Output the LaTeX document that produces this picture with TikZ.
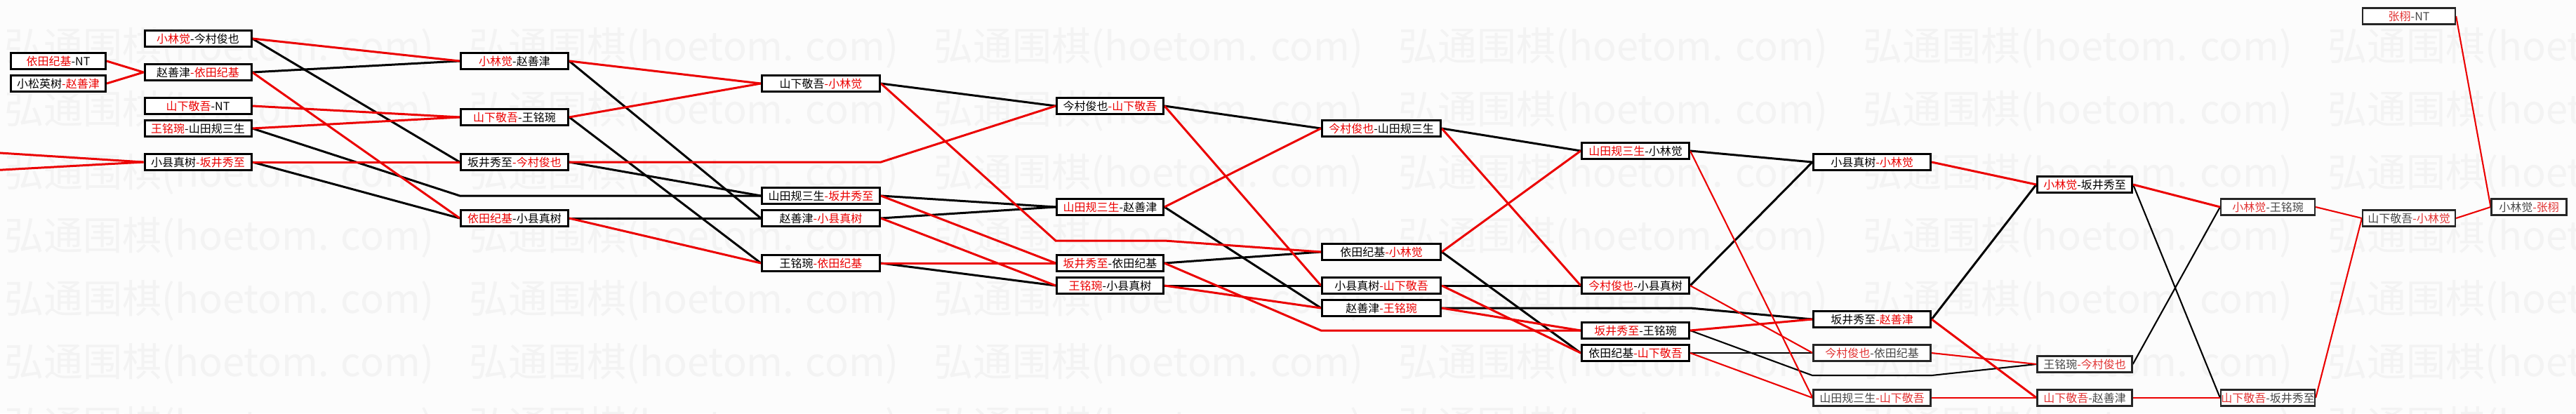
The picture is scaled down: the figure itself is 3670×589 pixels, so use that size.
\documentclass[tikz,border=0pt]{standalone}
\usepackage{fontspec}
\newfontfamily\cjk{Noto Sans CJK SC}
\definecolor{wr}{RGB}{235,0,0}
\definecolor{wrl}{RGB}{225,50,50}
\definecolor{wmc}{RGB}{243,243,243}
\definecolor{bgc}{RGB}{252,252,252}
\pgfdeclarelayer{wmark}
\pgfdeclarelayer{links}
\pgfsetlayers{wmark,links,main}
\def\curred{wr}
\newcommand\Lw[2]{{\color{\curred}#1}-#2}
\newcommand\Rw[2]{#1{\color{\curred}-#2}}
\tikzset{
  box/.style={draw=black, line width=1.5pt, fill=white, inner sep=0pt,
    minimum height=11.5pt, font=\cjk\fontsize{8pt}{9pt}\selectfont,
    text=black, execute at begin node={\def\curred{wr}}},
  lite/.style={draw=black!85, line width=1.1pt, text=black!72,
    execute at begin node={\def\curred{wrl}}},
  col0/.style={box, minimum width=67.5pt},
  col1/.style={box, minimum width=76pt},
  col2/.style={box, minimum width=76.5pt},
  col3/.style={box, minimum width=84pt},
  col4/.style={box, minimum width=76pt},
  col5/.style={box, minimum width=84.5pt},
  col6/.style={box, minimum width=76.5pt},
  col7/.style={box, minimum width=83.5pt},
  col8/.style={box, minimum width=67.5pt},
  col9/.style={box, minimum width=67pt},
  col10/.style={box, minimum width=66pt},
  col11/.style={box, minimum width=53.5pt},
  rl/.style={draw=wr, line width=1.5pt, line join=miter},
  bl/.style={draw=black, line width=1.5pt, line join=miter},
  thin/.style={line width=1.05pt},
  wmtext/.style={text=wmc, inner sep=0pt, anchor=west,
    font=\cjk\fontsize{28pt}{28pt}\selectfont}
}
\begin{document}
\begin{tikzpicture}[x=0.5pt, y=-0.5pt]
\clip (0,0) rectangle (3670,589);
% background and watermark
\begin{pgfonlayer}{wmark}
\fill[bgc] (0,0) rectangle (3670,589);
\foreach \r in {0,...,6}{
  \foreach \c in {0,...,5}{
    \node[wmtext] (wm-\r-\c) at ({6+662*\c},{68+90*\r}) {弘通围棋(hoetom. com)};
  }
}
\end{pgfonlayer}
% boxes
\node[col0] (c0a) at (83,87) {\Lw{依田纪基}{NT}};
\node[col0] (c0b) at (83,119) {\Rw{小松英树}{赵善津}};
\node[col1] (c1a) at (282,55) {\Lw{小林觉}{今村俊也}};
\node[col1] (c1b) at (282,103) {\Rw{赵善津}{依田纪基}};
\node[col1] (c1c) at (282,151) {\Lw{山下敬吾}{NT}};
\node[col1] (c1d) at (282,183) {\Lw{王铭琬}{山田规三生}};
\node[col1] (c1e) at (282,231) {\Rw{小县真树}{坂井秀至}};
\node[col2] (c2a) at (733,87) {\Lw{小林觉}{赵善津}};
\node[col2] (c2b) at (733,167) {\Lw{山下敬吾}{王铭琬}};
\node[col2] (c2c) at (733,231) {\Rw{坂井秀至}{今村俊也}};
\node[col2] (c2d) at (733,311) {\Lw{依田纪基}{小县真树}};
\node[col3] (c3a) at (1169.5,119) {\Rw{山下敬吾}{小林觉}};
\node[col3] (c3b) at (1169.5,279) {\Rw{山田规三生}{坂井秀至}};
\node[col3] (c3c) at (1169.5,311) {\Rw{赵善津}{小县真树}};
\node[col3] (c3d) at (1169.5,375) {\Rw{王铭琬}{依田纪基}};
\node[col4] (c4a) at (1581.5,151) {\Rw{今村俊也}{山下敬吾}};
\node[col4] (c4b) at (1581.5,295) {\Lw{山田规三生}{赵善津}};
\node[col4] (c4c) at (1581.5,375) {\Lw{坂井秀至}{依田纪基}};
\node[col4] (c4d) at (1581.5,407) {\Lw{王铭琬}{小县真树}};
\node[col5] (c5a) at (1968,183) {\Lw{今村俊也}{山田规三生}};
\node[col5] (c5b) at (1968,359) {\Rw{依田纪基}{小林觉}};
\node[col5] (c5c) at (1968,407) {\Rw{小县真树}{山下敬吾}};
\node[col5] (c5d) at (1968,439) {\Rw{赵善津}{王铭琬}};
\node[col6] (c6a) at (2330,215) {\Lw{山田规三生}{小林觉}};
\node[col6] (c6b) at (2330,407) {\Lw{今村俊也}{小县真树}};
\node[col6] (c6c) at (2330,471) {\Lw{坂井秀至}{王铭琬}};
\node[col6] (c6d) at (2330,503) {\Rw{依田纪基}{山下敬吾}};
\node[col7] (c7a) at (2667,231) {\Rw{小县真树}{小林觉}};
\node[col7] (c7b) at (2667,455) {\Rw{坂井秀至}{赵善津}};
\node[col7,lite] (c7c) at (2667,503) {\Lw{今村俊也}{依田纪基}};
\node[col7,lite] (c7d) at (2667,567) {\Rw{山田规三生}{山下敬吾}};
\node[col8] (c8a) at (2970,263) {\Lw{小林觉}{坂井秀至}};
\node[col8,lite] (c8b) at (2970,519) {\Rw{王铭琬}{今村俊也}};
\node[col8,lite] (c8c) at (2970,567) {\Lw{山下敬吾}{赵善津}};
\node[col9,lite] (c9a) at (3231,295) {\Lw{小林觉}{王铭琬}};
\node[col9,lite] (c9b) at (3231,567) {\Lw{山下敬吾}{坂井秀至}};
\node[col10,lite] (c10a) at (3432,311) {\Rw{山下敬吾}{小林觉}};
\node[col10,lite] (c10z) at (3432,23) {\Lw{张栩}{NT}};
\node[col11,lite] (c11) at (3603,295) {\Rw{小林觉}{张栩}};
% free ends and pass-through points
\coordinate (in1) at (-20,216.7);
\coordinate (in2) at (-20,243.3);
\coordinate (p2l) at (655,279);  \coordinate (p2r) at (811,279);
\coordinate (p3l) at (1084,231); \coordinate (p3r) at (1255,231);
\coordinate (p4l) at (1504,343); \coordinate (p4r) at (1659,343);
\coordinate (p5l) at (1882,471); \coordinate (p5r) at (2054,471);
\coordinate (p6l) at (2252,439); \coordinate (p6r) at (2408,439);
\coordinate (p7l) at (2582,535); \coordinate (p7r) at (2752,535);
\begin{pgfonlayer}{links}
% black connectors
\draw[bl] (c1a.east) -- (c2c.west);
\draw[bl] (c1b.east) -- (c2a.west);
\draw[bl] (c1d.east) -- (p2l) -- (p2r) -- (c3b.west);
\draw[bl] (c1e.east) -- (c2d.west);
\draw[bl] (c2a.east) -- (c3c.west);
\draw[bl] (c2b.east) -- (c3d.west);
\draw[bl] (c2c.east) -- (c3b.west);
\draw[bl] (c2d.east) -- (c3c.west);
\draw[bl] (c3a.east) -- (c4a.west);
\draw[bl] (c3b.east) -- (c4b.west);
\draw[bl] (c3c.east) -- (c4b.west);
\draw[bl] (c3d.east) -- (c4d.west);
\draw[bl] (c4a.east) -- (c5a.west);
\draw[bl] (c4b.east) -- (c5d.west);
\draw[bl] (c4c.east) -- (c5b.west);
\draw[bl] (c4d.east) -- (c5c.west);
\draw[bl] (c5a.east) -- (c6a.west);
\draw[bl] (c5b.east) -- (c6d.west);
\draw[bl] (c5c.east) -- (c6b.west);
\draw[bl] (c5d.east) -- (p6l) -- (p6r) -- (c7b.west);
\draw[bl] (c6a.east) -- (c7a.west);
\draw[bl] (c6b.east) -- (c7a.west);
\draw[bl,thin] (c6c.east) -- (p7l) -- (p7r) -- (c8b.west);
\draw[bl,thin] (c6d.east) -- (c7c.west);
\draw[bl] (c7b.east) -- (c8a.west);
\draw[bl,thin] (c8a.east) -- (c9b.west);
\draw[bl,thin] (c8b.east) -- (c9a.west);
% red connectors
\draw[rl] (c0a.east) -- (c1b.west);
\draw[rl] (c0b.east) -- (c1b.west);
\draw[rl] (in1) -- (c1e.west);
\draw[rl] (in2) -- (c1e.west);
\draw[rl] (c1a.east) -- (c2a.west);
\draw[rl] (c1b.east) -- (c2d.west);
\draw[rl] (c1c.east) -- (c2b.west);
\draw[rl] (c1d.east) -- (c2b.west);
\draw[rl] (c1e.east) -- (c2c.west);
\draw[rl] (c2a.east) -- (c3a.west);
\draw[rl] (c2b.east) -- (c3a.west);
\draw[rl] (c2c.east) -- (p3l) -- (p3r) -- (c4a.west);
\draw[rl] (c2d.east) -- (c3d.west);
\draw[rl] (c3a.east) -- (p4l) -- (p4r) -- (c5b.west);
\draw[rl] (c3b.east) -- (c4c.west);
\draw[rl] (c3c.east) -- (c4d.west);
\draw[rl] (c3d.east) -- (c4c.west);
\draw[rl] (c4a.east) -- (c5c.west);
\draw[rl] (c4b.east) -- (c5a.west);
\draw[rl] (c4c.east) -- (p5l) -- (p5r) -- (c6c.west);
\draw[rl] (c4d.east) -- (c5d.west);
\draw[rl] (c5a.east) -- (c6b.west);
\draw[rl] (c5b.east) -- (c6a.west);
\draw[rl] (c5c.east) -- (c6d.west);
\draw[rl] (c5d.east) -- (c6c.west);
\draw[rl,thin] (c6a.east) -- (c7d.west);
\draw[rl,thin] (c6b.east) -- (c7c.west);
\draw[rl] (c6c.east) -- (c7b.west);
\draw[rl,thin] (c6d.east) -- (c7d.west);
\draw[rl] (c7a.east) -- (c8a.west);
\draw[rl] (c7b.east) -- (c8c.west);
\draw[rl,thin] (c7c.east) -- (c8b.west);
\draw[rl,thin] (c7d.east) -- (c8c.west);
\draw[rl] (c8a.east) -- (c9a.west);
\draw[rl,thin] (c8c.east) -- (c9b.west);
\draw[rl,thin] (c9a.east) -- (c10a.west);
\draw[rl,thin] (c9b.east) -- (c10a.west);
\draw[rl,thin] (c10a.east) -- (c11.west);
\draw[rl,thin] (c10z.east) -- (c11.west);
\end{pgfonlayer}
\end{tikzpicture}
\end{document}
